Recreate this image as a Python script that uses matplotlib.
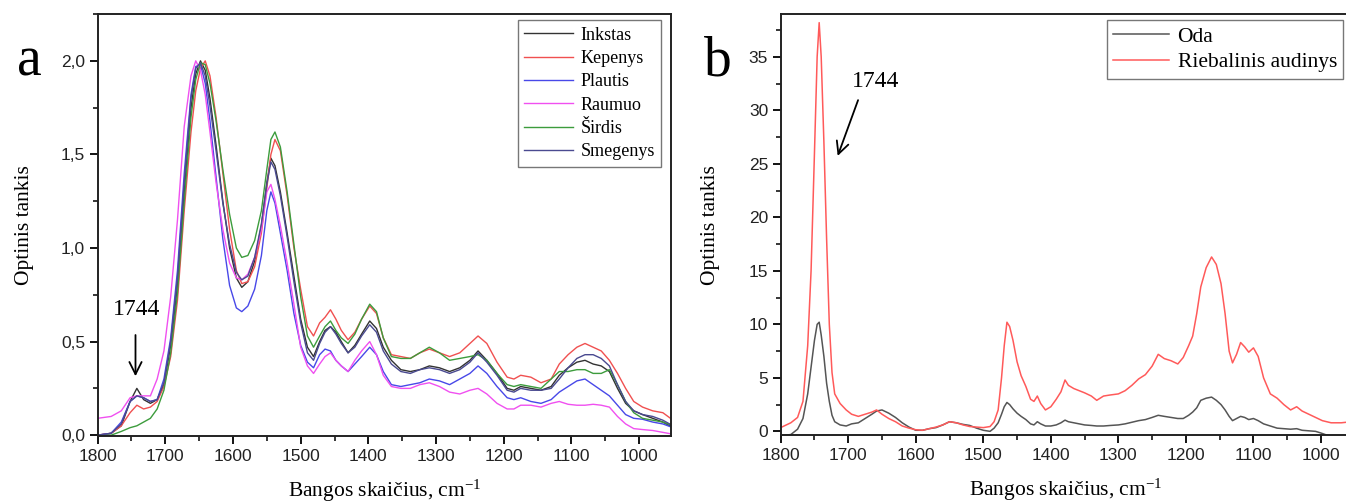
import matplotlib
matplotlib.use("Agg")
import matplotlib.pyplot as plt
from matplotlib.ticker import MultipleLocator, FuncFormatter

plt.rcParams["mathtext.fontset"] = "custom"
plt.rcParams["mathtext.rm"] = "Liberation Serif"
plt.rcParams["mathtext.it"] = "Liberation Serif:italic"

# ---- panel a: 6 tissues ----
wn_a = [1800, 1780, 1765, 1752, 1742, 1732, 1722, 1712, 1702, 1692,
        1682, 1672, 1662, 1655, 1648, 1641, 1634, 1625, 1615, 1605,
        1595, 1587, 1578, 1568, 1558, 1550, 1544, 1538, 1530, 1520,
        1510, 1500, 1490, 1481, 1472, 1464, 1456, 1448, 1440, 1430,
        1420, 1410, 1398, 1388, 1378, 1366, 1352, 1338, 1324, 1310,
        1295, 1280, 1265, 1250, 1238, 1225, 1210, 1195, 1185, 1175,
        1160, 1145, 1130, 1118, 1105, 1092, 1080, 1068, 1056, 1044,
        1032, 1020, 1008, 995, 980, 965, 950]

inkstas = [0.00, 0.01, 0.05, 0.18, 0.25, 0.19, 0.17, 0.19, 0.27, 0.48,
           0.80, 1.30, 1.75, 1.93, 2.00, 1.95, 1.80, 1.55, 1.25, 1.00,
           0.84, 0.79, 0.82, 0.93, 1.12, 1.35, 1.48, 1.44, 1.30, 1.08,
           0.85, 0.62, 0.47, 0.42, 0.50, 0.56, 0.58, 0.55, 0.50, 0.44,
           0.48, 0.54, 0.61, 0.57, 0.47, 0.40, 0.35, 0.34, 0.35, 0.37,
           0.36, 0.34, 0.36, 0.40, 0.45, 0.40, 0.33, 0.25, 0.24, 0.26,
           0.25, 0.24, 0.26, 0.32, 0.36, 0.39, 0.40, 0.38, 0.37, 0.34,
           0.25, 0.17, 0.13, 0.11, 0.09, 0.07, 0.04]

kepenys = [0.00, 0.01, 0.05, 0.12, 0.16, 0.14, 0.15, 0.18, 0.26, 0.42,
           0.72, 1.20, 1.62, 1.84, 1.96, 2.00, 1.92, 1.70, 1.40, 1.10,
           0.88, 0.81, 0.82, 0.90, 1.08, 1.32, 1.50, 1.58, 1.52, 1.28,
           1.00, 0.78, 0.58, 0.53, 0.60, 0.63, 0.67, 0.62, 0.56, 0.51,
           0.55, 0.62, 0.69, 0.65, 0.52, 0.43, 0.42, 0.41, 0.44, 0.46,
           0.44, 0.42, 0.44, 0.49, 0.53, 0.49, 0.39, 0.31, 0.30, 0.32,
           0.31, 0.28, 0.30, 0.38, 0.43, 0.47, 0.49, 0.47, 0.45, 0.40,
           0.33, 0.25, 0.18, 0.15, 0.13, 0.12, 0.08]

plautis = [0.00, 0.01, 0.07, 0.18, 0.21, 0.20, 0.18, 0.19, 0.30, 0.52,
           0.88, 1.40, 1.82, 1.97, 1.98, 1.88, 1.68, 1.38, 1.05, 0.80,
           0.68, 0.66, 0.69, 0.78, 0.96, 1.20, 1.30, 1.24, 1.08, 0.88,
           0.65, 0.48, 0.39, 0.36, 0.43, 0.46, 0.45, 0.40, 0.37, 0.34,
           0.38, 0.42, 0.47, 0.43, 0.34, 0.27, 0.26, 0.27, 0.28, 0.30,
           0.29, 0.27, 0.30, 0.33, 0.37, 0.33, 0.26, 0.20, 0.19, 0.20,
           0.18, 0.17, 0.19, 0.23, 0.26, 0.29, 0.30, 0.27, 0.24, 0.21,
           0.16, 0.11, 0.09, 0.085, 0.07, 0.06, 0.04]

raumuo = [0.09, 0.10, 0.13, 0.20, 0.21, 0.21, 0.21, 0.30, 0.45, 0.74,
          1.15, 1.65, 1.92, 2.00, 1.95, 1.82, 1.62, 1.35, 1.10, 0.92,
          0.84, 0.83, 0.86, 0.95, 1.10, 1.30, 1.34, 1.26, 1.12, 0.92,
          0.70, 0.47, 0.37, 0.33, 0.38, 0.42, 0.44, 0.40, 0.37, 0.34,
          0.40, 0.45, 0.50, 0.43, 0.32, 0.26, 0.25, 0.25, 0.27, 0.28,
          0.26, 0.23, 0.22, 0.24, 0.25, 0.22, 0.17, 0.14, 0.14, 0.16,
          0.16, 0.15, 0.17, 0.18, 0.165, 0.16, 0.16, 0.165, 0.16, 0.15,
          0.10, 0.06, 0.035, 0.03, 0.025, 0.015, 0.005]

sirdis = [0.00, 0.00, 0.02, 0.04, 0.05, 0.07, 0.09, 0.14, 0.24, 0.44,
          0.76, 1.25, 1.70, 1.90, 1.99, 1.98, 1.88, 1.68, 1.42, 1.18,
          1.00, 0.95, 0.96, 1.04, 1.20, 1.42, 1.58, 1.62, 1.54, 1.30,
          1.02, 0.74, 0.53, 0.47, 0.53, 0.58, 0.61, 0.56, 0.52, 0.49,
          0.54, 0.62, 0.70, 0.66, 0.52, 0.42, 0.41, 0.41, 0.44, 0.47,
          0.44, 0.40, 0.41, 0.42, 0.43, 0.40, 0.33, 0.27, 0.26, 0.27,
          0.26, 0.25, 0.30, 0.34, 0.34, 0.35, 0.35, 0.33, 0.33, 0.35,
          0.27, 0.18, 0.12, 0.09, 0.08, 0.07, 0.05]

smegenys = [0.00, 0.01, 0.06, 0.18, 0.21, 0.20, 0.18, 0.19, 0.28, 0.50,
            0.84, 1.35, 1.80, 1.96, 1.99, 1.92, 1.76, 1.52, 1.24, 1.02,
            0.87, 0.83, 0.85, 0.95, 1.13, 1.34, 1.46, 1.42, 1.28, 1.06,
            0.82, 0.60, 0.44, 0.40, 0.49, 0.55, 0.58, 0.54, 0.49, 0.44,
            0.47, 0.53, 0.59, 0.55, 0.45, 0.38, 0.34, 0.33, 0.35, 0.36,
            0.35, 0.33, 0.35, 0.39, 0.44, 0.39, 0.32, 0.24, 0.23, 0.25,
            0.24, 0.24, 0.25, 0.30, 0.36, 0.41, 0.43, 0.43, 0.41, 0.37,
            0.27, 0.18, 0.13, 0.11, 0.10, 0.08, 0.05]

labels_a = ["Inkstas", "Kepenys", "Plautis", "Raumuo", "Širdis", "Smegenys"]
colors_a = ["#333333", "#f05050", "#4848e8", "#f050f0", "#3c9c3c", "#4a4a90"]

# ---- panel b: skin and fat ----
wn_b = [1800, 1785, 1775, 1767, 1760, 1755, 1750, 1746, 1743, 1740,
        1736, 1732, 1728, 1724, 1720, 1712, 1703, 1695, 1685, 1675,
        1665, 1658, 1650, 1640, 1630, 1620, 1610, 1600, 1590, 1580,
        1570, 1560, 1550, 1540, 1530, 1520, 1510, 1500, 1490, 1484,
        1478, 1473, 1469, 1465, 1461, 1456, 1450, 1444, 1437, 1430,
        1425, 1420, 1415, 1408, 1400, 1392, 1385, 1379, 1374, 1366,
        1358, 1350, 1340, 1332, 1322, 1312, 1300, 1290, 1280, 1270,
        1260, 1250, 1241, 1232, 1222, 1212, 1204, 1196, 1190, 1184,
        1178, 1170, 1162, 1155, 1148, 1142, 1136, 1131, 1125, 1119,
        1113, 1107, 1100, 1093, 1085, 1075, 1065, 1055, 1045, 1036,
        1028, 1018, 1008, 998, 985, 970, 955]

oda = [-0.4, -0.3, 0.2, 1.2, 3.5, 6.0, 8.5, 10.0, 10.2, 9.0,
       7.0, 4.5, 2.8, 1.5, 0.9, 0.6, 0.5, 0.7, 0.8, 1.2,
       1.6, 1.9, 2.0, 1.7, 1.3, 0.8, 0.4, 0.1, 0.1, 0.25,
       0.35, 0.6, 0.9, 0.8, 0.65, 0.55, 0.3, 0.1, 0.0, 0.3,
       0.8, 1.6, 2.3, 2.7, 2.5, 2.1, 1.7, 1.4, 1.1, 0.7,
       0.6, 0.9, 0.7, 0.5, 0.5, 0.6, 0.8, 1.05, 0.9, 0.8,
       0.7, 0.6, 0.55, 0.5, 0.5, 0.55, 0.6, 0.7, 0.85, 1.0,
       1.1, 1.3, 1.5, 1.4, 1.3, 1.2, 1.2, 1.5, 1.8, 2.2,
       2.9, 3.1, 3.2, 2.9, 2.5, 2.0, 1.4, 1.0, 1.2, 1.4,
       1.3, 1.1, 1.2, 1.0, 0.7, 0.5, 0.3, 0.25, 0.2, 0.25,
       0.1, 0.05, 0.0, -0.2, -0.5, -0.6, -0.7]

riebalinis = [0.35, 0.8, 1.3, 2.8, 8.0, 15.0, 26.0, 35.0, 38.2, 35.0,
              27.0, 18.0, 10.0, 5.5, 3.5, 2.6, 2.0, 1.6, 1.4, 1.6,
              1.8, 2.0, 1.6, 1.2, 0.9, 0.5, 0.3, 0.15, 0.1, 0.25,
              0.4, 0.6, 0.9, 0.8, 0.6, 0.45, 0.4, 0.35, 0.45, 0.9,
              2.0, 5.0, 8.0, 10.2, 9.8, 8.5, 6.5, 5.2, 4.2, 3.0,
              2.8, 3.3, 2.6, 2.0, 2.3, 3.0, 3.7, 4.8, 4.3, 4.0,
              3.8, 3.6, 3.3, 2.9, 3.3, 3.4, 3.5, 3.8, 4.3, 4.9,
              5.3, 6.1, 7.2, 6.8, 6.6, 6.3, 6.9, 8.0, 8.9, 11.0,
              13.5, 15.3, 16.3, 15.6, 13.8, 11.0, 7.5, 6.4, 7.2, 8.3,
              7.9, 7.4, 7.8, 7.0, 5.0, 3.5, 3.1, 2.5, 2.0, 2.3,
              1.9, 1.6, 1.3, 1.0, 0.8, 0.8, 0.9]

serif = "Liberation Serif"
sans = "Liberation Sans"

fig = plt.figure(figsize=(13.46, 5.03), dpi=100)
ax1 = fig.add_axes([0.0725, 0.133, 0.426, 0.839])
ax2 = fig.add_axes([0.580, 0.135, 0.424, 0.837])

series_a = [inkstas, kepenys, plautis, raumuo, sirdis, smegenys]
for vals, lab, col in zip(series_a, labels_a, colors_a):
    ax1.plot(wn_a, vals, color=col, lw=1.0, label=lab)

ax2.plot(wn_b, oda, color="#555555", lw=1.1, label="Oda")
ax2.plot(wn_b, riebalinis, color="#ff5a5a", lw=1.1, label="Riebalinis audinys")

ax1.set_xlim(1800, 953)
ax1.set_ylim(-0.005, 2.25)
ax2.set_xlim(1800, 955)
ax2.set_ylim(-0.35, 39.0)

ax1.xaxis.set_major_locator(MultipleLocator(100))
ax1.xaxis.set_minor_locator(MultipleLocator(50))
ax1.yaxis.set_major_locator(MultipleLocator(0.5))
ax1.yaxis.set_minor_locator(MultipleLocator(0.25))
ax1.yaxis.set_major_formatter(FuncFormatter(lambda v, p: f"{v:.1f}".replace(".", ",")))

ax2.xaxis.set_major_locator(MultipleLocator(100))
ax2.xaxis.set_minor_locator(MultipleLocator(50))
ax2.yaxis.set_major_locator(MultipleLocator(5))
ax2.yaxis.set_minor_locator(MultipleLocator(2.5))

for ax in (ax1, ax2):
    for sp in ax.spines.values():
        sp.set_linewidth(1.4)
        sp.set_color("#222222")
    ax.tick_params(which="major", length=6, width=1.3, labelsize=12.5, pad=3)
    ax.tick_params(which="minor", length=3.5, width=1.1)
    for t in ax.get_xticklabels() + ax.get_yticklabels():
        t.set_fontfamily(sans)
        t.set_color("#222222")
    ax.set_xlabel("Bangos skaičius, cm$^{\\mathregular{-1}}$", fontfamily=serif, fontsize=15.5, labelpad=10)

ax1.set_ylabel("Optinis tankis", fontfamily=serif, fontsize=15.5, labelpad=19)
ax2.set_ylabel("Optinis tankis", fontfamily=serif, fontsize=15.5, labelpad=21)

ax2.spines["right"].set_visible(False)

leg1 = ax1.legend(loc="upper right", bbox_to_anchor=(0.992, 0.998), prop={"family": serif, "size": 13},
                  frameon=True, fancybox=False, edgecolor="#555555", handlelength=2.7,
                  handletextpad=0.4, labelspacing=0.35, borderpad=0.35, borderaxespad=0.3)
leg1.get_frame().set_linewidth(1.0)

leg2 = ax2.legend(loc="upper left", bbox_to_anchor=(0.571, 0.985), prop={"family": serif, "size": 15.5},
                  frameon=True, fancybox=False, edgecolor="#555555", handlelength=2.6,
                  handletextpad=0.4, labelspacing=0.25, borderpad=0.3, borderaxespad=0.0)
leg2.get_frame().set_linewidth(1.0)

# peak annotation
ax1.text(1742, 0.67, "1744", fontfamily=serif, fontsize=17, ha="center", va="center")
ax1.annotate("", xy=(1744, 0.30), xytext=(1744, 0.55),
             arrowprops=dict(arrowstyle="->", color="black", lw=1.3, mutation_scale=22))
ax2.text(1659, 32.7, "1744", fontfamily=serif, fontsize=17, ha="center", va="center")
ax2.annotate("", xy=(1717, 25.5), xytext=(1684, 31.2),
             arrowprops=dict(arrowstyle="->", color="black", lw=1.3, mutation_scale=22))

fig.text(0.022, 0.85, "a", fontfamily=serif, fontsize=40, ha="center", va="baseline")
fig.text(0.533, 0.85, "b", fontfamily=serif, fontsize=40, ha="center", va="baseline")

fig.savefig("out.png", dpi=100)
